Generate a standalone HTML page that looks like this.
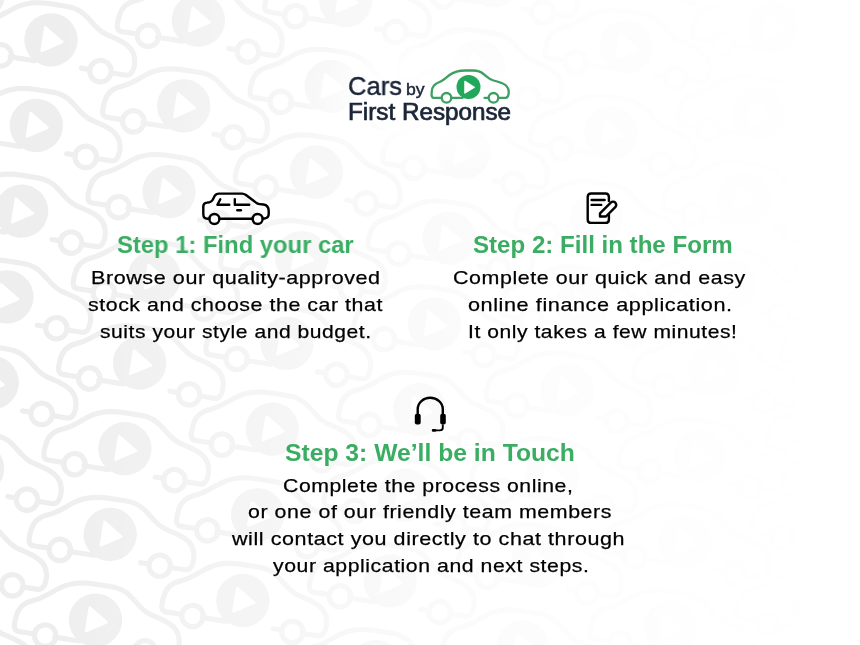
<!DOCTYPE html>
<html><head><meta charset="utf-8">
<style>
html,body{margin:0;padding:0;}
body{width:860px;height:645px;position:relative;overflow:hidden;background:#fff;font-family:"Liberation Sans",sans-serif;}
#bg{position:absolute;left:0;top:0;}
#fade{position:absolute;left:0;top:0;width:860px;height:645px;background:linear-gradient(to right, rgba(255,255,255,0) 0%, rgba(255,255,255,0) 6%, rgba(255,255,255,0.42) 30%, rgba(255,255,255,0.7) 48%, rgba(255,255,255,0.86) 64%, rgba(255,255,255,0.93) 80%, rgba(255,255,255,0.965) 90%, rgba(255,255,255,0.99) 100%);}
#glow{position:absolute;left:300px;top:20px;width:260px;height:160px;background:radial-gradient(ellipse 50% 50% at 50% 50%, rgba(255,255,255,0.95) 0%, rgba(255,255,255,0.85) 45%, rgba(255,255,255,0) 100%);}
.t{position:absolute;white-space:nowrap;transform-origin:0 0;will-change:transform;}
.h{font-weight:bold;color:#3aad62;}
.b{color:#000;-webkit-text-stroke:0.25px #000;}
.l{color:#1b2537;-webkit-text-stroke:0.45px #1b2537;}
.lb{color:#1b2537;-webkit-text-stroke:0.7px #1b2537;}
svg.ic{position:absolute;overflow:visible;}
</style></head><body>
<svg id="bg" width="860" height="645" viewBox="0 0 860 645">
<defs>
<g id="pc">
<path d="M-27.5,10.8 H-34.5 C-37.5,10.8 -37,7 -36.7,4 C-36.3,0 -34,-3 -30,-4.5 C-26,-6 -23,-9 -19,-12 C-15,-15 -10,-16.5 -3,-16.5 H5 C9,-16.5 12,-15.5 15,-13 C19,-10 21,-7.5 25,-6.5 C31,-5 35,-4 37.5,-1.5 C40,1 40.5,5 40,7.5 C39.5,10 38.5,10.8 37,10.8 H30 M20,10.8 H16 M-17.5,10.8 H-6" fill="none" stroke="#eeeeee" stroke-width="2.4" stroke-linecap="round" stroke-linejoin="round"/>
<circle cx="-22" cy="10.8" r="5" fill="none" stroke="#eeeeee" stroke-width="2.4"/>
<circle cx="25" cy="10.8" r="5" fill="none" stroke="#eeeeee" stroke-width="2.4"/>
<circle cx="0" cy="0" r="12.4" fill="#eeeeee"/>
<path d="M-3.5,-5.3 L-3.5,5.7 L5.3,0.2 Z" fill="#fff" stroke="#fff" stroke-width="1.2" stroke-linejoin="round"/>
</g>
</defs>
<use href="#pc" transform="translate(-81.7 -26.3) rotate(9) scale(2.15)"/>
<use href="#pc" transform="translate(-96.4 59.4) rotate(9) scale(2.15)"/>
<use href="#pc" transform="translate(-111.1 145.1) rotate(9) scale(2.15)"/>
<use href="#pc" transform="translate(65.7 -45.9) rotate(9) scale(2.15)"/>
<use href="#pc" transform="translate(51.0 39.8) rotate(9) scale(2.15)"/>
<use href="#pc" transform="translate(36.3 125.5) rotate(9) scale(2.15)"/>
<use href="#pc" transform="translate(21.6 211.2) rotate(9) scale(2.15)"/>
<use href="#pc" transform="translate(6.9 296.9) rotate(9) scale(2.15)"/>
<use href="#pc" transform="translate(-7.8 382.6) rotate(9) scale(2.15)"/>
<use href="#pc" transform="translate(-22.5 468.3) rotate(9) scale(2.15)"/>
<use href="#pc" transform="translate(-37.2 554.0) rotate(9) scale(2.15)"/>
<use href="#pc" transform="translate(-51.9 639.7) rotate(9) scale(2.15)"/>
<use href="#pc" transform="translate(-66.6 725.4) rotate(9) scale(2.15)"/>
<use href="#pc" transform="translate(213.1 -65.5) rotate(9) scale(2.15)"/>
<use href="#pc" transform="translate(198.4 20.2) rotate(9) scale(2.15)"/>
<use href="#pc" transform="translate(183.7 105.9) rotate(9) scale(2.15)"/>
<use href="#pc" transform="translate(169.0 191.6) rotate(9) scale(2.15)"/>
<use href="#pc" transform="translate(154.3 277.3) rotate(9) scale(2.15)"/>
<use href="#pc" transform="translate(139.6 363.0) rotate(9) scale(2.15)"/>
<use href="#pc" transform="translate(124.9 448.7) rotate(9) scale(2.15)"/>
<use href="#pc" transform="translate(110.2 534.4) rotate(9) scale(2.15)"/>
<use href="#pc" transform="translate(95.5 620.1) rotate(9) scale(2.15)"/>
<use href="#pc" transform="translate(80.8 705.8) rotate(9) scale(2.15)"/>
<use href="#pc" transform="translate(345.8 0.6) rotate(9) scale(2.15)"/>
<use href="#pc" transform="translate(331.1 86.3) rotate(9) scale(2.15)"/>
<use href="#pc" transform="translate(316.4 172.0) rotate(9) scale(2.15)"/>
<use href="#pc" transform="translate(301.7 257.7) rotate(9) scale(2.15)"/>
<use href="#pc" transform="translate(287.0 343.4) rotate(9) scale(2.15)"/>
<use href="#pc" transform="translate(272.3 429.1) rotate(9) scale(2.15)"/>
<use href="#pc" transform="translate(257.6 514.8) rotate(9) scale(2.15)"/>
<use href="#pc" transform="translate(242.9 600.5) rotate(9) scale(2.15)"/>
<use href="#pc" transform="translate(228.2 686.2) rotate(9) scale(2.15)"/>
<use href="#pc" transform="translate(493.2 -19.0) rotate(9) scale(2.15)"/>
<use href="#pc" transform="translate(478.5 66.7) rotate(9) scale(2.15)"/>
<use href="#pc" transform="translate(463.8 152.4) rotate(9) scale(2.15)"/>
<use href="#pc" transform="translate(449.1 238.1) rotate(9) scale(2.15)"/>
<use href="#pc" transform="translate(434.4 323.8) rotate(9) scale(2.15)"/>
<use href="#pc" transform="translate(419.7 409.5) rotate(9) scale(2.15)"/>
<use href="#pc" transform="translate(405.0 495.2) rotate(9) scale(2.15)"/>
<use href="#pc" transform="translate(390.3 580.9) rotate(9) scale(2.15)"/>
<use href="#pc" transform="translate(375.6 666.6) rotate(9) scale(2.15)"/>
<use href="#pc" transform="translate(640.6 -38.6) rotate(9) scale(2.15)"/>
<use href="#pc" transform="translate(625.9 47.1) rotate(9) scale(2.15)"/>
<use href="#pc" transform="translate(611.2 132.8) rotate(9) scale(2.15)"/>
<use href="#pc" transform="translate(596.5 218.5) rotate(9) scale(2.15)"/>
<use href="#pc" transform="translate(581.8 304.2) rotate(9) scale(2.15)"/>
<use href="#pc" transform="translate(567.1 389.9) rotate(9) scale(2.15)"/>
<use href="#pc" transform="translate(552.4 475.6) rotate(9) scale(2.15)"/>
<use href="#pc" transform="translate(537.7 561.3) rotate(9) scale(2.15)"/>
<use href="#pc" transform="translate(523.0 647.0) rotate(9) scale(2.15)"/>
<use href="#pc" transform="translate(788.0 -58.2) rotate(9) scale(2.15)"/>
<use href="#pc" transform="translate(773.3 27.5) rotate(9) scale(2.15)"/>
<use href="#pc" transform="translate(758.6 113.2) rotate(9) scale(2.15)"/>
<use href="#pc" transform="translate(743.9 198.9) rotate(9) scale(2.15)"/>
<use href="#pc" transform="translate(729.2 284.6) rotate(9) scale(2.15)"/>
<use href="#pc" transform="translate(714.5 370.3) rotate(9) scale(2.15)"/>
<use href="#pc" transform="translate(699.8 456.0) rotate(9) scale(2.15)"/>
<use href="#pc" transform="translate(685.1 541.7) rotate(9) scale(2.15)"/>
<use href="#pc" transform="translate(670.4 627.4) rotate(9) scale(2.15)"/>
<use href="#pc" transform="translate(655.7 713.1) rotate(9) scale(2.15)"/>
<use href="#pc" transform="translate(935.4 -77.8) rotate(9) scale(2.15)"/>
<use href="#pc" transform="translate(920.7 7.9) rotate(9) scale(2.15)"/>
<use href="#pc" transform="translate(906.0 93.6) rotate(9) scale(2.15)"/>
<use href="#pc" transform="translate(891.3 179.3) rotate(9) scale(2.15)"/>
<use href="#pc" transform="translate(876.6 265.0) rotate(9) scale(2.15)"/>
<use href="#pc" transform="translate(861.9 350.7) rotate(9) scale(2.15)"/>
<use href="#pc" transform="translate(847.2 436.4) rotate(9) scale(2.15)"/>
<use href="#pc" transform="translate(832.5 522.1) rotate(9) scale(2.15)"/>
<use href="#pc" transform="translate(817.8 607.8) rotate(9) scale(2.15)"/>
<use href="#pc" transform="translate(803.1 693.5) rotate(9) scale(2.15)"/>
<use href="#pc" transform="translate(979.9 502.5) rotate(9) scale(2.15)"/>
<use href="#pc" transform="translate(965.2 588.2) rotate(9) scale(2.15)"/>
<use href="#pc" transform="translate(950.5 673.9) rotate(9) scale(2.15)"/>
</svg>
<div id="fade"></div>
<div id="glow"></div>
<svg class="ic" style="left:0;top:0" width="860" height="645">
<g transform="translate(468.5 87)">
<path d="M-27.5,10.8 H-34.5 C-37.5,10.8 -37,7 -36.7,4 C-36.3,0 -34,-3 -30,-4.5 C-26,-6 -23,-9 -19,-12 C-15,-15 -10,-16.5 -3,-16.5 H5 C9,-16.5 12,-15.5 15,-13 C19,-10 21,-7.5 25,-6.5 C31,-5 35,-4 37.5,-1.5 C40,1 40.5,5 40,7.5 C39.5,10 38.5,10.8 37,10.8 H30 M20,10.8 H16 M-17.5,10.8 H-6" fill="none" stroke="#3d9f62" stroke-width="2.3" stroke-linecap="round" stroke-linejoin="round"/>
<circle cx="-22" cy="10.8" r="4.8" fill="none" stroke="#3d9f62" stroke-width="2.3"/>
<circle cx="25" cy="10.8" r="4.8" fill="none" stroke="#3d9f62" stroke-width="2.3"/>
<circle cx="0" cy="0" r="12" fill="#22a85a"/>
<path d="M-3.6,-5.6 L-3.6,6 L5.8,0.2 Z" fill="#fff" stroke="#fff" stroke-width="1.3" stroke-linejoin="round"/>
</g>
</svg>
<svg class="ic" id="icons" style="left:0;top:0" width="860" height="645">
<g fill="none" stroke="#000" stroke-width="2.4" stroke-linecap="round" stroke-linejoin="round">
<path d="M209.4,218.7 H207.5 Q203.3,218.7 203.3,214 V206.5 Q203.3,203 207,202.6 L209.5,202.2 Q211.5,201.8 212.8,199.6 L214.5,196.2 Q216,193.6 219,193.6 H242 Q244,193.6 246,195 L256,202.6 Q257.5,203.9 259.5,204.1 L263.5,204.5 Q268.7,205.3 268.7,211 V214 Q268.7,218 264.5,218.5 L262.8,218.7"/>
<path d="M219.4,218.7 H252.4"/>
<circle cx="214.4" cy="219" r="5"/>
<circle cx="257.6" cy="219" r="5"/>
<path d="M220.3,199.2 L217.4,204.7 H229.3"/>
<path d="M234.8,199.2 V204.7 H249.2"/>
<path d="M237.3,210.3 H240.9"/>
</g>
<g fill="none" stroke="#000" stroke-width="2.4" stroke-linecap="round" stroke-linejoin="round">
<path d="M608.9,201 V197 Q608.9,193.5 605.4,193.5 H591.2 Q587.7,193.5 587.7,197 V219.4 Q587.7,222.9 591.2,222.9 H605.4 Q608.9,222.9 608.9,219.4 V214"/>
<path d="M591.6,200 H604.6"/>
<path d="M591.6,204.9 H601.2"/>
<path d="M600,213.37 L610.77,202.6 A3.2,3.2 0 0 1 615.3,207.13 L605.93,216.5 L600,216.5 Z"/>
</g>
<g>
<path d="M417.7,414 V409.3 A12.55,11.5 0 0 1 442.8,409.3 V414" fill="none" stroke="#000" stroke-width="2.4"/>
<rect x="414.8" y="413.7" width="5.9" height="10.8" rx="2" fill="#000"/>
<rect x="440.2" y="413.7" width="5.6" height="10.8" rx="2" fill="#000"/>
<path d="M442.8,424.5 V427.5 Q442.8,430.4 439.8,430.4 H436" fill="none" stroke="#000" stroke-width="1.9"/>
<rect x="431.8" y="429" width="4.6" height="2.8" rx="1.2" fill="#000"/>
</g>
</svg>
<div class="t l" id="l1" style="left:348.43px;top:72.77px;font-size:26.5px;line-height:26.5px;letter-spacing:0px;transform:scaleX(0.9639)">Cars</div>
<div class="t l" id="l2" style="left:405.81px;top:80.81px;font-size:17px;line-height:17px;letter-spacing:0px;transform:scaleX(1.0370)">by</div>
<div class="t lb" id="l3" style="left:348.21px;top:100.61px;font-size:23.5px;line-height:23.5px;letter-spacing:0px;transform:scaleX(1.0320)">First Response</div>
<div class="t h" id="h1" style="left:117.01px;top:232.98px;font-size:24px;line-height:24px;letter-spacing:0px;transform:scaleX(0.9916)">Step 1: Find your car</div>
<div class="t h" id="h2" style="left:473.00px;top:232.98px;font-size:24px;line-height:24px;letter-spacing:0px;transform:scaleX(1.0039)">Step 2: Fill in the Form</div>
<div class="t h" id="h3" style="left:284.97px;top:440.98px;font-size:24px;line-height:24px;letter-spacing:0px;transform:scaleX(1.0286)">Step 3: We’ll be in Touch</div>
<div class="t b" id="a1" style="left:90.87px;top:267.72px;font-size:19px;line-height:19px;letter-spacing:0.5px;transform:scaleX(1.1344)">Browse our quality-approved</div>
<div class="t b" id="a2" style="left:87.88px;top:294.62px;font-size:19px;line-height:19px;letter-spacing:0.5px;transform:scaleX(1.1226)">stock and choose the car that</div>
<div class="t b" id="a3" style="left:99.89px;top:321.52px;font-size:19px;line-height:19px;letter-spacing:0.5px;transform:scaleX(1.1075)">suits your style and budget.</div>
<div class="t b" id="b1" style="left:452.87px;top:267.72px;font-size:19px;line-height:19px;letter-spacing:0.5px;transform:scaleX(1.1279)">Complete our quick and easy</div>
<div class="t b" id="b2" style="left:467.86px;top:294.62px;font-size:19px;line-height:19px;letter-spacing:0.5px;transform:scaleX(1.1397)">online finance application.</div>
<div class="t b" id="b3" style="left:467.89px;top:321.52px;font-size:19px;line-height:19px;letter-spacing:0.5px;transform:scaleX(1.1083)">It only takes a few minutes!</div>
<div class="t b" id="c1" style="left:282.88px;top:475.52px;font-size:19px;line-height:19px;letter-spacing:0.5px;transform:scaleX(1.1167)">Complete the process online,</div>
<div class="t b" id="c2" style="left:247.88px;top:502.32px;font-size:19px;line-height:19px;letter-spacing:0.5px;transform:scaleX(1.1242)">or one of our friendly team members</div>
<div class="t b" id="c3" style="left:232.00px;top:529.12px;font-size:19px;line-height:19px;letter-spacing:0.5px;transform:scaleX(1.1333)">will contact you directly to chat through</div>
<div class="t b" id="c4" style="left:272.56px;top:555.92px;font-size:19px;line-height:19px;letter-spacing:0.5px;transform:scaleX(1.1170)">your application and next steps.</div>
</body></html>
